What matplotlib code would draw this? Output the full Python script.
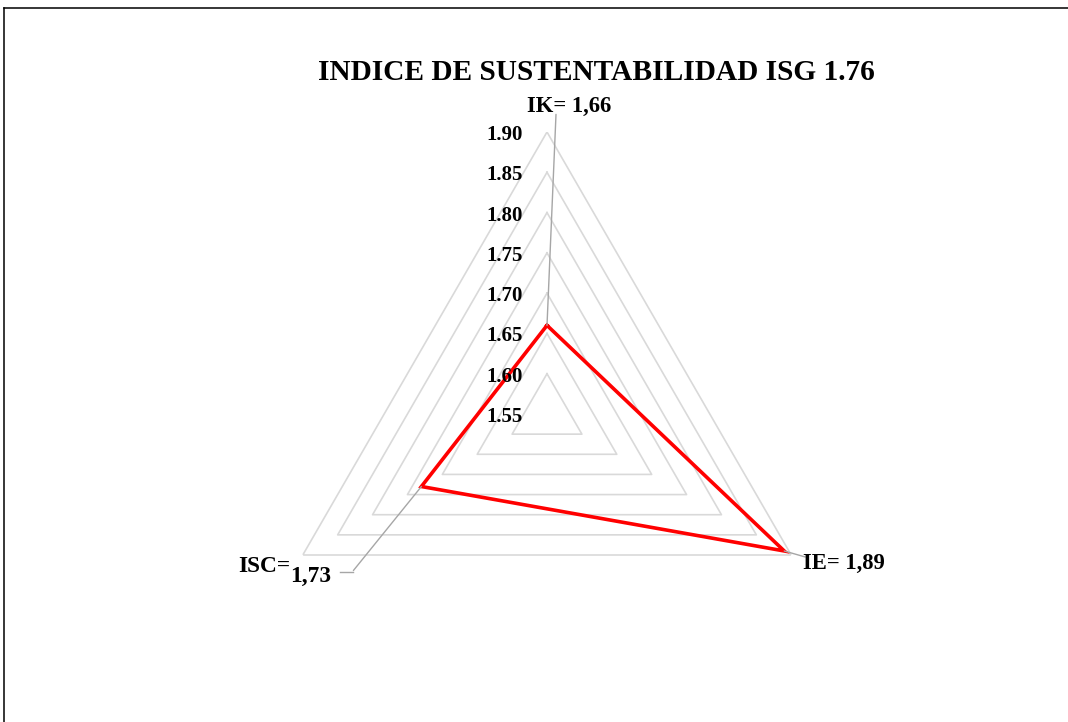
import numpy as np
import matplotlib
matplotlib.use("Agg")
import matplotlib.pyplot as plt
from matplotlib.lines import Line2D

# data
indices = ["IK", "IE", "ISC"]
values = [1.66, 1.89, 1.73]
value_labels = ["1,66", "1,89", "1,73"]
ring_values = [1.60, 1.65, 1.70, 1.75, 1.80, 1.85, 1.90]
tick_values = [1.55, 1.60, 1.65, 1.70, 1.75, 1.80, 1.85, 1.90]
title = "INDICE DE SUSTENTABILIDAD ISG 1.76"

W, H = 1068, 722
plt.rcParams["font.family"] = ["Liberation Serif", "DejaVu Serif"]
plt.rcParams["font.weight"] = "bold"

fig = plt.figure(figsize=(W / 100, H / 100), dpi=100)

# polar axes centred at (547, 414) px, radius 282 px
cx, cy, R = 547, 414, 282
ax = fig.add_axes([(cx - R) / W, 1 - (cy + R) / H, 2 * R / W, 2 * R / H],
                  projection="polar")
ax.set_theta_offset(np.pi / 2)
ax.set_theta_direction(-1)
ax.set_ylim(1.55, 1.90)
ax.grid(False)
ax.spines["polar"].set_visible(False)
ax.set_xticks([])
ax.set_yticks([])
ax.patch.set_alpha(0)

angles = np.linspace(0, 2 * np.pi, len(indices), endpoint=False)
closed = np.append(angles, angles[0])

# triangular grid
for v in ring_values:
    ax.plot(closed, [v] * len(closed), color="#d9d9d9", lw=1.2, zorder=1)

# series
vals = values + values[:1]
ax.plot(closed, vals, color="#ff0000", lw=2.6, zorder=3, solid_joinstyle="miter")

# radial tick labels (left of the top axis)
for t in tick_values:
    ax.annotate(f"{t:.2f}", xy=(0, t), xytext=(-24, -3), textcoords="offset pixels",
                ha="right", va="center", fontsize=15, fontweight="bold")

# leader lines
lead = dict(arrowstyle="-", color="#a6a6a6", lw=1, shrinkA=0, shrinkB=0)
ax.annotate("", xy=(angles[0], values[0]), xytext=(9, 211),
            textcoords="offset pixels", arrowprops=lead)
ax.annotate("", xy=(angles[1], values[1]), xytext=(21, -6),
            textcoords="offset pixels", arrowprops=lead)
ax.annotate("", xy=(angles[2], values[2]), xytext=(-68, -84),
            textcoords="offset pixels", arrowprops=lead)
fig.add_artist(Line2D([340 / W, 353 / W], [1 - 572 / H, 1 - 572 / H],
                      color="#a6a6a6", lw=1))


def ftext(x, y, s, **kw):
    fig.text(x / W, 1 - y / H, s, fontweight="bold", **kw)


ftext(596, 73, title, fontsize=21.2, ha="center", va="center")
ftext(569, 106, f"{indices[0]}= {value_labels[0]}", fontsize=16.3, ha="center", va="center")
ftext(844, 563, f"{indices[1]}= {value_labels[1]}", fontsize=16.3, ha="center", va="center")
ftext(290, 567, f"{indices[2]}=", fontsize=16.8, ha="right", va="center")
ftext(290, 576, value_labels[2], fontsize=16.8, ha="left", va="center")

# border (top and left only)
fig.add_artist(Line2D([3.5 / W, 3.5 / W], [0, 1 - 8 / H], color="black", lw=1.1))
fig.add_artist(Line2D([3.5 / W, 1], [1 - 8 / H, 1 - 8 / H], color="black", lw=1.1))

fig.savefig("out.png", dpi=100)
